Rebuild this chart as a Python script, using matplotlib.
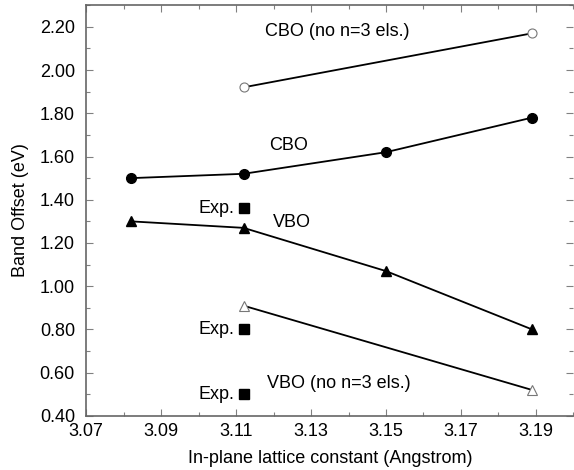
import matplotlib
matplotlib.use('Agg')
from matplotlib import pyplot as plt
from matplotlib.ticker import MultipleLocator, FormatStrFormatter

plt.rcParams['font.family'] = ['Liberation Sans', 'DejaVu Sans']

# data
x_all = [3.082, 3.112, 3.150, 3.189]
cbo = [1.50, 1.52, 1.62, 1.78]
vbo = [1.30, 1.27, 1.07, 0.80]
x_no3 = [3.112, 3.189]
cbo_no3 = [1.92, 2.17]
vbo_no3 = [0.91, 0.52]
x_exp = [3.112, 3.112, 3.112]
y_exp = [1.36, 0.80, 0.50]

fig = plt.figure(figsize=(5.74, 4.70), dpi=100)
ax = fig.add_axes([0.150, 0.115, 0.849, 0.874])

ax.plot(x_all, cbo, 'k-', lw=1.3, marker='o', ms=7, mfc='k', mec='k')
ax.plot(x_all, vbo, 'k-', lw=1.3, marker='^', ms=7, mfc='k', mec='k')
ax.plot(x_no3, cbo_no3, 'k-', lw=1.3, marker='o', ms=6.5, mfc='white', mec='#777777', mew=0.8)
ax.plot(x_no3, vbo_no3, 'k-', lw=1.3, marker='^', ms=7, mfc='white', mec='#777777', mew=0.8)
ax.plot(x_exp, y_exp, 's', color='k', ms=6.5, ls='none')

fs = 13
ax.text(3.1178, 2.18, 'CBO (no n=3 els.)', fontsize=fs, ha='left', va='center')
ax.text(3.1189, 1.653, 'CBO', fontsize=fs, ha='left', va='center')
ax.text(3.1199, 1.297, 'VBO', fontsize=fs, ha='left', va='center')
ax.text(3.1183, 0.55, 'VBO (no n=3 els.)', fontsize=fs, ha='left', va='center')
for yy in y_exp:
    ax.text(3.1095, yy, 'Exp.', fontsize=fs, ha='right', va='center')

ax.set_xlim(3.07, 3.20)
ax.set_ylim(0.40, 2.30)
ax.xaxis.set_major_locator(MultipleLocator(0.02))
ax.xaxis.set_minor_locator(MultipleLocator(0.01))
ax.yaxis.set_major_locator(MultipleLocator(0.2))
ax.yaxis.set_minor_locator(MultipleLocator(0.1))
ax.xaxis.set_major_formatter(FormatStrFormatter('%.2f'))
ax.yaxis.set_major_formatter(FormatStrFormatter('%.2f'))
ax.set_xticks([3.07, 3.09, 3.11, 3.13, 3.15, 3.17, 3.19])

ax.tick_params(which='both', direction='in', top=True, right=True,
               color='#808080', labelsize=13)
ax.tick_params(axis='y', pad=8)
ax.tick_params(axis='x', pad=5)
ax.tick_params(which='major', length=5, width=0.8)
ax.tick_params(which='minor', length=3, width=0.8)
for side in ['left', 'bottom', 'top']:
    ax.spines[side].set_color('#666666')
    ax.spines[side].set_linewidth(1.2)
ax.spines['right'].set_visible(False)

ax.set_xlabel('In-plane lattice constant (Angstrom)', fontsize=13, labelpad=7)
ax.set_ylabel('Band Offset (eV)', fontsize=13, labelpad=8)

fig.savefig('out.png', dpi=100)
